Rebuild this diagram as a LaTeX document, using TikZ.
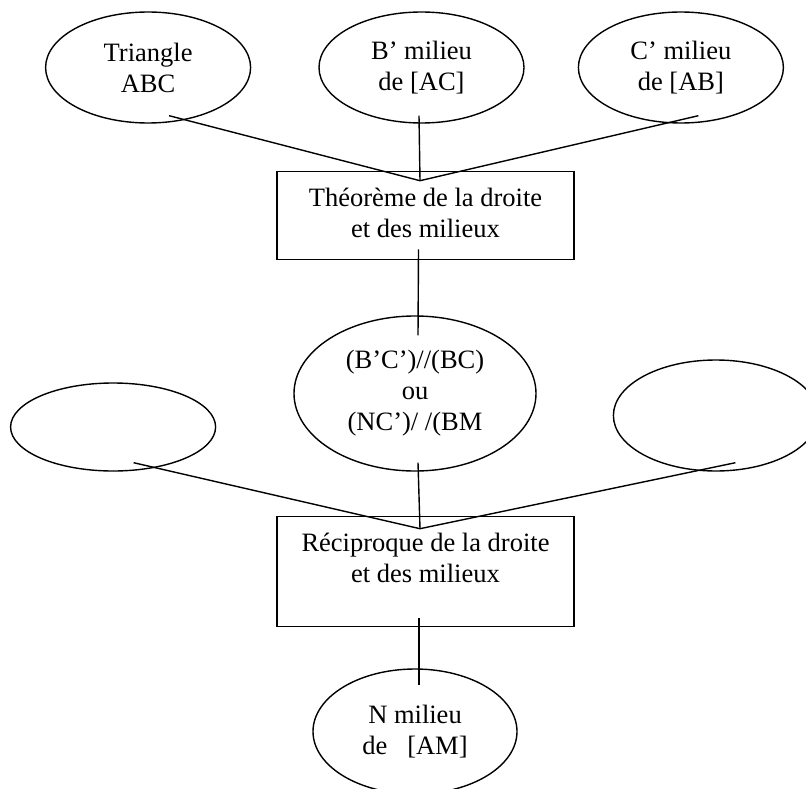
\documentclass[tikz,border=0pt]{standalone}
\usepackage{fontspec}
\setmainfont{Liberation Serif}
\usepackage{tikz}
\usetikzlibrary{shapes.geometric}
\usetikzlibrary{positioning}

\begin{document}
\begin{tikzpicture}[
      milieu/.style={ellipse, draw, line width=1.4pt, minimum width=205pt, minimum height=111pt, inner sep=0pt, align=center},
      regle/.style={rectangle, draw, line width=1.6pt, minimum width=297pt, inner ysep=0pt, align=center},
      lien/.style={line width=1.4pt},
      every node/.style={font=\fontsize{26.5}{31}\selectfont}
    ]
    \useasboundingbox (0pt,0pt) rectangle (806pt,-789pt);

    % Hypotheses
    \node[milieu] (bp) at (421.5pt,-67.5pt) {B' milieu\\de [AC]};
    \node[milieu, left=67pt of bp] (tri) {Triangle\\ABC};
    \node[milieu, right=53pt of bp] (cp) {C' milieu\\de [AB]};

    % Theoreme
    \node[regle, below=47pt of bp, xshift=4pt, text height=66pt, text depth=22pt] (thm) {Théorème de la droite\\et des milieux};
    \coordinate (thmin) at ([xshift=-5.5pt, yshift=-10pt]thm.north);

    \draw[lien] ([xshift=21pt, yshift=8pt]tri.south) -- (thmin);
    \draw[lien] ([xshift=-2.5pt, yshift=8pt]bp.south) -- (thmin);
    \draw[lien] ([xshift=17.5pt, yshift=8pt]cp.south) -- (thmin);

    % Conclusion
    \node[milieu, below=55pt of thm, xshift=-10.5pt, minimum width=242pt, minimum height=155pt] (par) {(B'C')//(BC)\\ou\\(NC')/ /(BM};
    \draw[lien] ([xshift=-7pt, yshift=11pt]thm.south) -- ([xshift=3pt, yshift=-20pt]par.north);

    % Ellipses vides
    \node[milieu, left=77pt of par, yshift=-33.5pt, minimum height=88pt] (videA) {};
    \node[milieu, right=76pt of par, yshift=-22pt] (videB) {};

    % Reciproque
    \node[regle, below=44pt of par, xshift=10.5pt, text height=66pt, text depth=44pt] (rec) {Réciproque de la droite\\et des milieux};
    \coordinate (recin) at ([xshift=-5.5pt, yshift=-13pt]rec.north);

    \draw[lien] ([xshift=20.5pt, yshift=9pt]videA.south) -- (recin);
    \draw[lien] ([xshift=3pt, yshift=9pt]par.south) -- (recin);
    \draw[lien] ([xshift=19.5pt, yshift=9pt]videB.south) -- (recin);

    % N milieu
    \node[milieu, below=41pt of rec, xshift=-10.5pt, minimum width=204pt, minimum height=125pt] (nm) {N milieu\\de~~~[AM]};
    \draw[lien] ([xshift=-6.5pt, yshift=9pt]rec.south) -- ([xshift=4pt, yshift=-17pt]nm.north);

    \end{tikzpicture}
\end{document}
